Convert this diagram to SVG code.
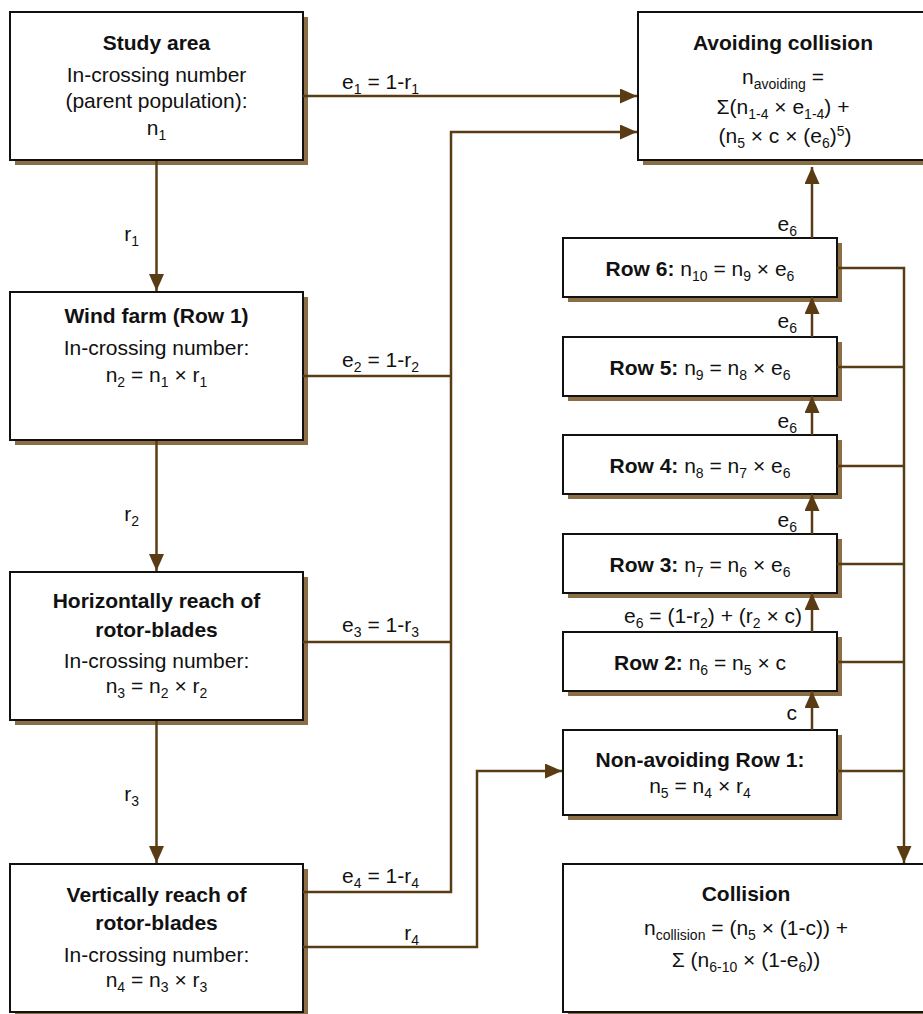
<svg xmlns="http://www.w3.org/2000/svg" width="923" height="1014" viewBox="0 0 923 1014">
<style>
.t{font-family:"Liberation Sans",Arial,sans-serif;font-size:21px;fill:#111;text-anchor:middle}
.e{text-anchor:end}
.b{font-weight:bold}
.s{font-size:14px}
.box{fill:#fff;stroke:#111;stroke-width:2}
.sh{fill:#8b6e46}
.c{fill:none;stroke:#5a3c14;stroke-width:2.5}
.a{marker-end:url(#ah)}
</style>
<defs>
<marker id="ah" markerUnits="userSpaceOnUse" markerWidth="18" markerHeight="16" refX="17" refY="7.5" orient="auto"><path d="M0,0 L17,7.5 L0,15 z" fill="#5a3c14"/></marker>
</defs>
<rect width="923" height="1014" fill="#fff"/>

<g id="study-area">
<rect class="sh" x="15" y="17" width="293" height="148"/>
<rect class="box" x="10" y="12" width="293" height="148"/>
<text class="t b" x="156.5" y="50">Study area</text>
<text class="t" x="156.5" y="82">In-crossing number</text>
<text class="t" x="156.5" y="108">(parent population):</text>
<text class="t" x="156.5" y="135">n<tspan class="s" dy="5">1</tspan></text>
</g>

<g id="wind-farm">
<rect class="sh" x="15" y="297" width="293" height="148"/>
<rect class="box" x="10" y="292" width="293" height="148"/>
<text class="t b" x="156.5" y="323">Wind farm (Row 1)</text>
<text class="t" x="156.5" y="355">In-crossing number:</text>
<text class="t" x="156.5" y="382">n<tspan class="s" dy="5">2</tspan><tspan dy="-5"> = n</tspan><tspan class="s" dy="5">1</tspan><tspan dy="-5"> × r</tspan><tspan class="s" dy="5">1</tspan></text>
</g>

<g id="horizontal-reach">
<rect class="sh" x="15" y="577" width="293" height="148"/>
<rect class="box" x="10" y="572" width="293" height="148"/>
<text class="t b" x="156.5" y="608">Horizontally reach of</text>
<text class="t b" x="156.5" y="637">rotor-blades</text>
<text class="t" x="156.5" y="668">In-crossing number:</text>
<text class="t" x="156.5" y="693">n<tspan class="s" dy="5">3</tspan><tspan dy="-5"> = n</tspan><tspan class="s" dy="5">2</tspan><tspan dy="-5"> × r</tspan><tspan class="s" dy="5">2</tspan></text>
</g>

<g id="vertical-reach">
<rect class="sh" x="15" y="869" width="293" height="148"/>
<rect class="box" x="10" y="864" width="293" height="148"/>
<text class="t b" x="156.5" y="902">Vertically reach of</text>
<text class="t b" x="156.5" y="930">rotor-blades</text>
<text class="t" x="156.5" y="962">In-crossing number:</text>
<text class="t" x="156.5" y="987">n<tspan class="s" dy="5">4</tspan><tspan dy="-5"> = n</tspan><tspan class="s" dy="5">3</tspan><tspan dy="-5"> × r</tspan><tspan class="s" dy="5">3</tspan></text>
</g>

<g id="avoiding-collision">
<rect class="sh" x="643" y="17" width="290" height="148"/>
<rect class="box" x="638" y="12" width="290" height="148"/>
<text class="t b" x="783" y="50">Avoiding collision</text>
<text class="t" x="783" y="84">n<tspan class="s" dy="5">avoiding</tspan><tspan dy="-5"> =</tspan></text>
<text class="t" x="783" y="114">Σ(n<tspan class="s" dy="5">1-4</tspan><tspan dy="-5"> × e</tspan><tspan class="s" dy="5">1-4</tspan><tspan dy="-5">) +</tspan></text>
<text class="t" x="785" y="143">(n<tspan class="s" dy="5">5</tspan><tspan dy="-5"> × c × (e</tspan><tspan class="s" dy="5">6</tspan><tspan dy="-5">)</tspan><tspan class="s" dy="-7">5</tspan><tspan dy="7">)</tspan></text>
</g>

<g id="row6">
<rect class="sh" x="568" y="243" width="274" height="59"/>
<rect class="box" x="563" y="238" width="274" height="59"/>
<text class="t" x="700" y="276"><tspan class="b">Row 6:</tspan> n<tspan class="s" dy="5">10</tspan><tspan dy="-5"> = n</tspan><tspan class="s" dy="5">9</tspan><tspan dy="-5"> × e</tspan><tspan class="s" dy="5">6</tspan></text>
</g>

<g id="row5">
<rect class="sh" x="568" y="342" width="274" height="59"/>
<rect class="box" x="563" y="337" width="274" height="59"/>
<text class="t" x="700" y="375"><tspan class="b">Row 5:</tspan> n<tspan class="s" dy="5">9</tspan><tspan dy="-5"> = n</tspan><tspan class="s" dy="5">8</tspan><tspan dy="-5"> × e</tspan><tspan class="s" dy="5">6</tspan></text>
</g>

<g id="row4">
<rect class="sh" x="568" y="440" width="274" height="59"/>
<rect class="box" x="563" y="435" width="274" height="59"/>
<text class="t" x="700" y="473"><tspan class="b">Row 4:</tspan> n<tspan class="s" dy="5">8</tspan><tspan dy="-5"> = n</tspan><tspan class="s" dy="5">7</tspan><tspan dy="-5"> × e</tspan><tspan class="s" dy="5">6</tspan></text>
</g>

<g id="row3">
<rect class="sh" x="568" y="539" width="274" height="59"/>
<rect class="box" x="563" y="534" width="274" height="59"/>
<text class="t" x="700" y="572"><tspan class="b">Row 3:</tspan> n<tspan class="s" dy="5">7</tspan><tspan dy="-5"> = n</tspan><tspan class="s" dy="5">6</tspan><tspan dy="-5"> × e</tspan><tspan class="s" dy="5">6</tspan></text>
</g>

<g id="row2">
<rect class="sh" x="568" y="637" width="274" height="59"/>
<rect class="box" x="563" y="632" width="274" height="59"/>
<text class="t" x="700" y="670"><tspan class="b">Row 2:</tspan> n<tspan class="s" dy="5">6</tspan><tspan dy="-5"> = n</tspan><tspan class="s" dy="5">5</tspan><tspan dy="-5"> × c</tspan></text>
</g>

<g id="non-avoiding-row1">
<rect class="sh" x="568" y="735" width="274" height="85"/>
<rect class="box" x="563" y="730" width="274" height="85"/>
<text class="t b" x="700" y="767">Non-avoiding Row 1:</text>
<text class="t" x="700" y="793">n<tspan class="s" dy="5">5</tspan><tspan dy="-5"> = n</tspan><tspan class="s" dy="5">4</tspan><tspan dy="-5"> × r</tspan><tspan class="s" dy="5">4</tspan></text>
</g>

<g id="collision">
<rect class="sh" x="568" y="869" width="366" height="148"/>
<rect class="box" x="563" y="864" width="366" height="148"/>
<text class="t b" x="746" y="901">Collision</text>
<text class="t" x="746" y="935">n<tspan class="s" dy="5">collision</tspan><tspan dy="-5"> = (n</tspan><tspan class="s" dy="5">5</tspan><tspan dy="-5"> × (1-c)) +</tspan></text>
<text class="t" x="746" y="967">Σ (n<tspan class="s" dy="5">6-10</tspan><tspan dy="-5"> × (1-e</tspan><tspan class="s" dy="5">6</tspan><tspan dy="-5">))</tspan></text>
</g>

<g id="connectors">
<path class="c a" d="M156.5,161 V291"/>
<path class="c a" d="M156.5,441 V571"/>
<path class="c a" d="M156.5,721 V863"/>
<path class="c a" d="M303,96 H637"/>
<path class="c a" d="M303,892 H451 V132 H637"/>
<path class="c" d="M303,376 H451"/>
<path class="c" d="M303,642 H451"/>
<path class="c a" d="M303,947 H477 V771 H562"/>
<path class="c a" d="M812,730 V691"/>
<path class="c a" d="M812,632 V593"/>
<path class="c a" d="M812,534 V494"/>
<path class="c a" d="M812,435 V396"/>
<path class="c a" d="M812,337 V297"/>
<path class="c a" d="M812,238 V167"/>
<path class="c a" d="M837,268 H904 V863"/>
<path class="c" d="M837,367 H904"/>
<path class="c" d="M837,466 H904"/>
<path class="c" d="M837,564 H904"/>
<path class="c" d="M837,662 H904"/>
<path class="c" d="M837,771 H904"/>
<text class="t e" x="139" y="241">r<tspan class="s" dy="5">1</tspan></text>
<text class="t e" x="139" y="521">r<tspan class="s" dy="5">2</tspan></text>
<text class="t e" x="139" y="801">r<tspan class="s" dy="5">3</tspan></text>
<text class="t e" x="419" y="89">e<tspan class="s" dy="5">1</tspan><tspan dy="-5"> = 1-r</tspan><tspan class="s" dy="5">1</tspan></text>
<text class="t e" x="419" y="367">e<tspan class="s" dy="5">2</tspan><tspan dy="-5"> = 1-r</tspan><tspan class="s" dy="5">2</tspan></text>
<text class="t e" x="419" y="632">e<tspan class="s" dy="5">3</tspan><tspan dy="-5"> = 1-r</tspan><tspan class="s" dy="5">3</tspan></text>
<text class="t e" x="419" y="883">e<tspan class="s" dy="5">4</tspan><tspan dy="-5"> = 1-r</tspan><tspan class="s" dy="5">4</tspan></text>
<text class="t e" x="419" y="940">r<tspan class="s" dy="5">4</tspan></text>
<text class="t e" x="797" y="231">e<tspan class="s" dy="5">6</tspan></text>
<text class="t e" x="797" y="328">e<tspan class="s" dy="5">6</tspan></text>
<text class="t e" x="797" y="428">e<tspan class="s" dy="5">6</tspan></text>
<text class="t e" x="797" y="527">e<tspan class="s" dy="5">6</tspan></text>
<text class="t e" x="802" y="623">e<tspan class="s" dy="5">6</tspan><tspan dy="-5"> = (1-r</tspan><tspan class="s" dy="5">2</tspan><tspan dy="-5">) + (r</tspan><tspan class="s" dy="5">2</tspan><tspan dy="-5"> × c)</tspan></text>
<text class="t e" x="797" y="720">c</text>
</g>
</svg>
